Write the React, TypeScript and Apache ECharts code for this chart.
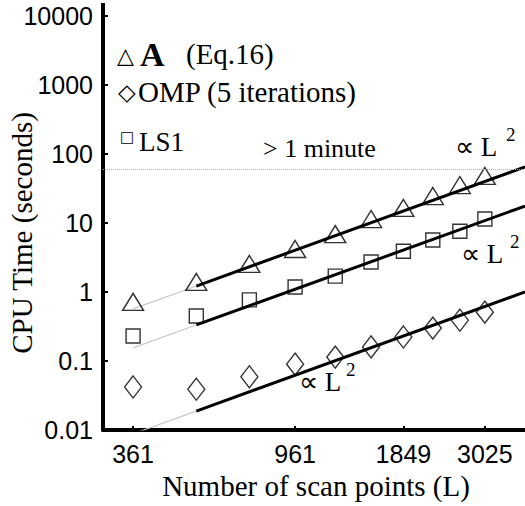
import React, { useEffect, useRef } from 'react';
import * as echarts from 'echarts';

const scanPoints = [361, 529, 729, 961, 1225, 1521, 1849, 2209, 2601, 3025];
const aValues = [0.72, 1.4, 2.55, 4.2, 6.9, 11.4, 16.5, 24.6, 35.5, 48];
const ls1Values = [0.23, 0.45, 0.77, 1.18, 1.7, 2.72, 3.9, 5.66, 7.6, 11.4];
const ompValues = [0.042, 0.039, 0.059, 0.09, 0.114, 0.16, 0.223, 0.3, 0.39, 0.51];
const xTickValues = [361, 961, 1849, 3025];
const fitX = [361, 529, 3856];
const aFit = [0.57, 1.22, 65];
const ls1Fit = [0.155, 0.333, 17.6];
const ompFit = [0.0088, 0.0188, 1.0];
const oneMinute = 60;

const SERIF = '"Liberation Serif", "Times New Roman", serif';
const SANS = '"Liberation Sans", Arial, sans-serif';
const SYM = '"DejaVu Sans", sans-serif';

function pairs(xs: number[], ys: number[]) {
  return xs.map((x, i) => [x, ys[i]]);
}

export default function App() {
  const ref = useRef<HTMLDivElement>(null);
  useEffect(() => {
    if (!ref.current) return;
    const chart = echarts.init(ref.current, undefined, { renderer: 'svg' });
    const markerStyle = { color: 'rgba(0,0,0,0)', borderColor: '#000', borderWidth: 1.4 };
    const gray = { color: '#c8c8c8', width: 1.2 };
    const black = { color: '#000', width: 3 };
    const fitSeries = (ys: number[]) => [
      {
        type: 'line', data: [[fitX[0], ys[0]], [fitX[1], ys[1]]], showSymbol: false,
        lineStyle: gray, silent: true, z: 1,
      },
      {
        type: 'line', data: [[fitX[1], ys[1]], [fitX[2], ys[2]]], showSymbol: false,
        lineStyle: black, silent: true, z: 2,
      },
    ];
    const txt = (text: string, x: number, y: number, size: number, extra: any = {}) => ({
      type: 'text', x, y,
      style: { text, fontSize: size, fontFamily: SERIF, fill: '#000', textVerticalAlign: 'middle', ...extra },
    });
    chart.setOption({
      animation: false,
      grid: { left: 103, right: 0, top: 16, bottom: 76, containLabel: false },
      xAxis: {
        type: 'log', min: 301, max: 3856,
        axisLine: { lineStyle: { color: '#000', width: 4 } },
        axisTick: { inside: true, length: 4, lineStyle: { color: '#000', width: 2 }, customValues: xTickValues },
        axisLabel: { customValues: xTickValues, fontSize: 25, fontFamily: SANS, color: '#000', margin: 11, formatter: (v: number) => String(Math.round(v)) },
        splitLine: { show: false },
        minorTick: { show: false },
      },
      yAxis: {
        type: 'log', min: 0.01, max: 10000, logBase: 10,
        axisLine: { lineStyle: { color: '#000', width: 4 } },
        axisTick: { inside: true, length: 5, lineStyle: { color: '#000', width: 2 } },
        axisLabel: { fontSize: 25, fontFamily: SANS, color: '#000', margin: 10, formatter: (v: number) => String(v) },
        splitLine: { show: false },
      },
      series: [
        ...fitSeries(aFit),
        ...fitSeries(ls1Fit),
        ...fitSeries(ompFit),
        {
          type: 'scatter', data: pairs(scanPoints, aValues), symbol: 'triangle', symbolSize: [21, 17],
          itemStyle: markerStyle, z: 3,
          markLine: {
            silent: true, symbol: ['none', 'none'], label: { show: false },
            lineStyle: { type: 'dotted', color: '#aaa', width: 1 },
            data: [{ yAxis: oneMinute }],
          },
        },
        {
          type: 'scatter', data: pairs(scanPoints, ls1Values), symbol: 'rect', symbolSize: [14, 14],
          itemStyle: markerStyle, z: 3,
        },
        {
          type: 'scatter', data: pairs(scanPoints, ompValues), symbol: 'diamond', symbolSize: [17, 22],
          itemStyle: markerStyle, z: 3,
        },
      ],
      graphic: [
        { type: 'line', shape: { x1: 103, y1: 3, x2: 103, y2: 17 }, style: { stroke: '#000', lineWidth: 4 } },
        { ...txt('CPU Time (seconds)', 0, 0, 29, { textAlign: 'center' }), x: 22, y: 233, rotation: Math.PI / 2 },
        txt('Number of scan points (L)', 316, 486, 29, { textAlign: 'center' }),
        txt('△', 117, 55, 22, { fontFamily: SYM }),
        txt('A', 140, 54, 34, { fontWeight: 'bold' }),
        txt('(Eq.16)', 186, 54, 29),
        txt('◇', 118, 92, 23, { fontFamily: SYM }),
        txt('OMP (5 iterations)', 138, 92, 29),
        txt('□', 120, 137, 15, { fontFamily: SYM }),
        txt('LS1', 139, 142, 27),
        txt('> 1 minute', 263, 148, 26),
        txt('∝ L', 455, 147, 27),
        txt('2', 506, 134, 19),
        txt('∝ L', 461, 254, 27),
        txt('2', 510, 241, 19),
        txt('∝ L', 299, 382, 27),
        txt('2', 346, 369, 19),
      ],
    });
    return () => chart.dispose();
  }, []);
  return <div ref={ref} style={{ width: 525, height: 506, position: 'absolute', left: 0, top: 0 }} />;
}
